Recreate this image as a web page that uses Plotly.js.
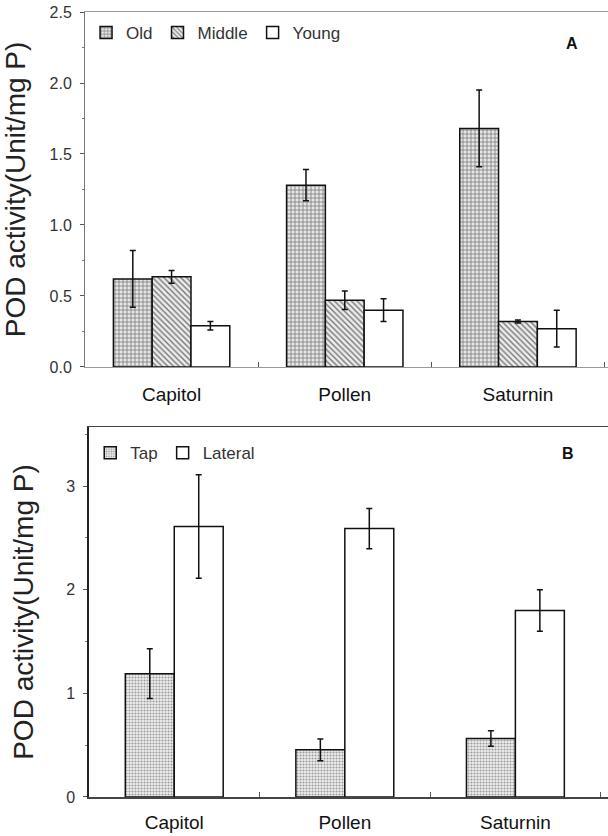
<!DOCTYPE html>
<html>
<head>
<meta charset="utf-8">
<script src="https://cdn.plot.ly/plotly-3.0.1.min.js"></script>
<style>html,body{margin:0;padding:0;background:#fff;}#chart{width:608px;height:836px;}</style>
</head>
<body>
<div id="chart"></div>
<script>
// ---- data ----
const categories = ['Capitol', 'Pollen', 'Saturnin'];
// Panel A: leaf age
const oldVals = [0.62, 1.28, 1.68];
const oldErr = [0.20, 0.11, 0.27];
const middleVals = [0.635, 0.47, 0.32];
const middleErr = [0.045, 0.065, 0.01];
const youngVals = [0.29, 0.40, 0.27];
const youngErr = [0.03, 0.08, 0.13];
// Panel B: root type
const tapVals = [1.19, 0.455, 0.565];
const tapErr = [0.24, 0.105, 0.075];
const lateralVals = [2.61, 2.59, 1.80];
const lateralErr = [0.50, 0.195, 0.20];

const FONT = 'Liberation Sans, Arial, sans-serif';
const wA = 0.224, wB = 0.287;
const lineBlk = {color: '#111', width: 1.5};
function eb(arr) {
  return {type: 'data', array: arr, visible: true, color: '#111', thickness: 1.5, width: 3};
}
const patOld = {shape: '+', size: 4, solidity: 0.35, fgcolor: '#777', bgcolor: '#e6e6e6'};
const patMid = {shape: '\\', size: 4, solidity: 0.35, fgcolor: '#777', bgcolor: '#ececec'};
const patTap = {shape: '.', size: 3, solidity: 0.4, fgcolor: '#999', bgcolor: '#f0f0f0'};

const traces = [
  {type: 'bar', name: 'Old', x: categories, y: oldVals, error_y: eb(oldErr), width: wA, offset: -1.5 * wA,
   marker: {color: '#e6e6e6', pattern: patOld, line: lineBlk}, xaxis: 'x', yaxis: 'y', legend: 'legend'},
  {type: 'bar', name: 'Middle', x: categories, y: middleVals, error_y: eb(middleErr), width: wA, offset: -0.5 * wA,
   marker: {color: '#ececec', pattern: patMid, line: lineBlk}, xaxis: 'x', yaxis: 'y', legend: 'legend'},
  {type: 'bar', name: 'Young', x: categories, y: youngVals, error_y: eb(youngErr), width: wA, offset: 0.5 * wA,
   marker: {color: '#ffffff', line: lineBlk}, xaxis: 'x', yaxis: 'y', legend: 'legend'},
  {type: 'bar', name: 'Tap', x: categories, y: tapVals, error_y: eb(tapErr), width: wB, offset: -wB,
   marker: {color: '#f0f0f0', pattern: patTap, line: lineBlk}, xaxis: 'x2', yaxis: 'y2', legend: 'legend2'},
  {type: 'bar', name: 'Lateral', x: categories, y: lateralVals, error_y: eb(lateralErr), width: wB, offset: 0,
   marker: {color: '#ffffff', line: lineBlk}, xaxis: 'x2', yaxis: 'y2', legend: 'legend2'}
];

const tickFont = {family: FONT, size: 16, color: '#333'};
const catFont = {family: FONT, size: 19, color: '#111'};
const titleFont = {family: FONT, size: 28, color: '#222'};
const legFont = {family: FONT, size: 17, color: '#333'};

const layout = {
  width: 608, height: 836,
  margin: {l: 85, r: 0, t: 12, b: 39},
  paper_bgcolor: '#fff', plot_bgcolor: '#fff',
  barmode: 'overlay',
  showlegend: true,
  font: {family: FONT},
  xaxis: {
    domain: [0, 1], anchor: 'y', type: 'category', categoryarray: categories,
    range: [-0.5, 2.52], showgrid: false, zeroline: false,
    showline: true, linecolor: '#999', linewidth: 1.5, mirror: true,
    ticks: 'inside', tickson: 'boundaries', ticklen: 5, tickcolor: '#555',
    tickfont: catFont, ticklabelstandoff: 10
  },
  yaxis: {
    domain: [0.5478, 1], anchor: 'x', range: [0, 2.5], dtick: 0.5, tickformat: '.1f',
    showgrid: false, zeroline: false, showline: true, linecolor: '#777', linewidth: 1,
    ticks: 'outside', ticklen: 4, tickcolor: '#555', tickfont: tickFont, ticklabelstandoff: 5,
    minor: {dtick: 0.25, ticks: 'outside', ticklen: 2, tickcolor: '#777'},
    title: {text: 'POD activity(Unit/mg P)', font: titleFont, standoff: 15}
  },
  xaxis2: {
    domain: [0.0076, 1], anchor: 'y2', type: 'category', categoryarray: categories,
    range: [-0.5, 2.543], showgrid: false, zeroline: false,
    showline: true, linecolor: '#444', linewidth: 1.5, mirror: true,
    ticks: 'inside', tickson: 'boundaries', ticklen: 5, tickcolor: '#555',
    tickfont: catFont, ticklabelstandoff: 8
  },
  yaxis2: {
    domain: [0, 0.4713], anchor: 'x2', range: [0, 3.57], dtick: 1,
    showgrid: false, zeroline: false, showline: true, linecolor: '#222', linewidth: 1.5,
    ticks: 'outside', ticklen: 4, tickcolor: '#555', tickfont: tickFont, ticklabelstandoff: 5,
    minor: {dtick: 0.5, ticks: 'outside', ticklen: 2, tickcolor: '#777'},
    title: {text: 'POD activity(Unit/mg P)', font: titleFont, standoff: 24}
  },
  legend: {
    orientation: 'h', x: 0.002, y: 0.9732, xanchor: 'left', yanchor: 'middle',
    bgcolor: 'rgba(0,0,0,0)', font: legFont, itemwidth: 30, traceorder: 'normal'
  },
  legend2: {
    orientation: 'h', x: 0.01, y: 0.438, xanchor: 'left', yanchor: 'middle',
    bgcolor: 'rgba(0,0,0,0)', font: legFont, itemwidth: 30, traceorder: 'normal'
  },
  annotations: [
    {text: '<b>A</b>', xref: 'paper', yref: 'paper', x: 0.9465, y: 0.9732, showarrow: false,
     font: {family: FONT, size: 16, color: '#111'}},
    {text: '<b>B</b>', xref: 'paper', yref: 'paper', x: 0.9388, y: 0.438, showarrow: false,
     font: {family: FONT, size: 16, color: '#111'}}
  ]
};

Plotly.newPlot('chart', traces, layout, {displayModeBar: false, staticPlot: true});
</script>
</body>
</html>
